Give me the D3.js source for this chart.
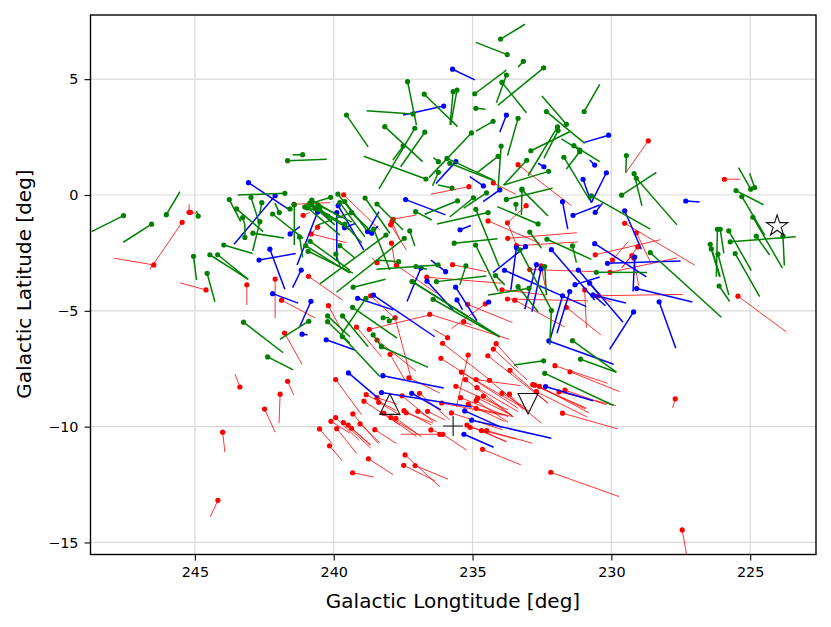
<!DOCTYPE html>
<html><head><meta charset="utf-8">
<script src="https://cdnjs.cloudflare.com/ajax/libs/d3/7.8.5/d3.min.js"></script>
<style>html,body{margin:0;padding:0;background:#fff}text{font-family:"DejaVu Sans",sans-serif}</style>
</head><body><svg id="c" width="831" height="627"></svg>
<script>
// Each record: [lon, lat, endLon, endLat] in degrees
const redVectors=[[245.46,-1.18,246.62,-3.21],[246.48,-3.02,247.91,-2.73],[245.21,-0.75,245.21,-0.4],[245.16,-0.75,244.96,-0.79],[244.6,-4.1,245.54,-3.79],[243.13,-3.88,243.13,-4.75],[242.11,-3.63,242.11,-5.32],[241.88,-4.54,240.68,-5.3],[241.77,-5.96,241.14,-7.31],[240.91,-3.51,239.68,-4.54],[240.19,-4.78,239.66,-5.97],[240.81,-1.68,239.54,-2.06],[240.58,-1.39,240.86,-1.73],[241.1,-0.88,240.86,-0.76],[241.43,-0.4,240.14,-0.33],[239.64,0.01,238.34,-1.51],[237.86,-1.05,237.02,-0.86],[237.95,-1.29,237.38,-2.37],[237.9,-1.15,237.62,-1.94],[237.92,-2.08,237.8,-2.95],[238.44,-2.92,238.63,-2.72],[237.74,-3.03,236.3,-4.24],[235.72,-3.01,234.5,-3.31],[236.65,-3.55,233.96,-3.81],[234.44,-1.12,232.58,-2.08],[233.74,-1.2,233.42,-2.16],[233.07,-0.46,233.74,-1.2],[233.73,-1.87,231.24,-1.63],[233.42,-2.19,231.21,-2.03],[232.94,-3.22,230.54,-3.31],[232.53,-3.06,232.32,-4.32],[233.94,-4.09,232.34,-4.32],[233.74,-4.49,230.84,-4.57],[233.48,-4.54,231.68,-5.7],[230.96,-4.1,230.9,-5.73],[230.48,-4.36,230.02,-4.62],[231.62,-4.85,230.38,-6.04],[234.54,-4.7,235.76,-5.77],[235.18,-4.72,233.56,-5.51],[236.54,-5.15,233.68,-6.23],[238.72,-5.8,236.54,-5.18],[235.9,-6.16,236.4,-5.8],[235.32,-5.47,235.03,-5.61],[238.67,-4.35,237.8,-5.32],[237.79,-5.3,237.2,-7.98],[239.18,-5.7,238.28,-6.98],[238.44,-6.26,237.04,-7.6],[237.97,-6.88,237.44,-7.98],[236.08,-6.4,234.38,-7.98],[236.14,-7.05,233.36,-9.21],[235.16,-6.91,235.58,-9.14],[234.15,-6.42,233.36,-7.48],[234.25,-6.65,233.04,-7.98],[234.45,-6.94,232.28,-8.99],[233.65,-7.57,232.29,-8.98],[235.4,-7.65,232.94,-9.35],[235.25,-7.97,233.54,-9.57],[234.87,-7.97,233.27,-8.23],[234.39,-8.0,232.52,-9.85],[234.84,-8.32,233.36,-9.35],[235.6,-8.26,233.72,-9.28],[233.94,-8.56,233.06,-9.2],[233.67,-8.6,233.18,-9.28],[234.61,-8.68,233.54,-9.57],[234.82,-8.77,233.6,-9.5],[234.87,-8.88,233.72,-9.81],[235.43,-8.75,233.72,-9.57],[236.11,-8.98,233.9,-9.5],[235.15,-9.03,233.84,-9.78],[234.87,-9.21,233.54,-9.57],[235.76,-9.41,233.91,-10.14],[235.2,-9.93,233.78,-10.65],[235.09,-10.03,233.42,-10.54],[234.68,-10.17,233.78,-10.65],[234.49,-10.17,232.84,-10.72],[236.07,-10.33,235.22,-11.01],[234.64,-10.98,233.26,-11.65],[232.18,-11.97,229.72,-13.02],[231.76,-9.42,229.76,-10.1],[232.03,-7.37,230.14,-8.13],[231.49,-7.63,229.7,-8.49],[232.83,-8.19,230.9,-9.2],[232.76,-8.21,230.92,-9.24],[232.59,-8.26,230.8,-9.41],[232.7,-8.49,230.87,-9.59],[231.89,-8.5,229.84,-9.09],[231.67,-8.42,230.18,-9.06],[243.38,-8.29,243.56,-7.73],[241.66,-8.04,241.44,-8.63],[241.93,-8.6,241.97,-9.85],[242.49,-9.24,242.11,-10.24],[244.0,-10.24,243.92,-11.1],[244.17,-13.18,244.45,-13.9],[239.93,-7.97,239.0,-9.48],[238.83,-8.62,237.74,-9.31],[238.44,-8.75,237.72,-9.03],[238.38,-8.95,237.62,-9.5],[238.91,-8.9,237.62,-9.93],[239.31,-9.45,238.4,-10.72],[239.93,-9.61,239.08,-10.6],[240.1,-9.77,239.42,-10.28],[239.65,-9.83,238.66,-10.93],[239.48,-9.93,238.66,-10.79],[239.36,-10.07,238.7,-10.79],[239.05,-9.88,238.34,-10.7],[238.52,-10.13,237.74,-10.73],[239.89,-10.09,239.18,-11.15],[240.51,-10.1,240.07,-10.72],[240.15,-10.83,239.7,-11.47],[238.75,-11.39,237.86,-12.07],[239.32,-11.99,238.55,-12.18],[237.54,-8.67,236.42,-9.78],[236.91,-8.56,235.82,-9.71],[237.29,-7.89,236.18,-8.55],[238.2,-9.42,237.02,-10.43],[237.94,-9.61,236.84,-10.43],[237.76,-9.64,237.02,-10.28],[237.47,-9.31,236.48,-9.93],[237.39,-9.4,236.42,-9.85],[236.97,-9.34,236.3,-9.78],[236.62,-9.34,236.0,-9.71],[236.5,-10.14,236.0,-10.36],[236.18,-10.33,237.57,-10.33],[237.43,-11.22,236.18,-12.59],[237.07,-11.68,235.88,-12.27],[237.48,-11.67,236.36,-12.34],[228.67,2.34,229.48,0.96],[225.93,0.68,225.35,0.68],[229.52,-1.22,227.0,-3.03],[229.1,-1.63,228.6,-2.88],[229.05,-2.24,229.62,-3.14],[229.26,-2.62,229.62,-3.14],[230.58,-2.58,228.23,-1.93],[229.96,-2.81,229.4,-2.02],[230.05,-3.34,227.64,-2.72],[230.46,-4.35,227.42,-4.29],[229.19,-2.73,229.02,-3.91],[225.44,-4.37,223.7,-5.91],[233.36,1.31,231.44,-0.46],[234.25,0.52,233.44,0.03],[235.13,0.36,236.51,0.03],[227.7,-8.8,227.79,-9.19],[227.45,-14.46,227.29,-15.54]];
const blueVectors=[[243.07,0.53,241.58,-0.65],[242.11,-0.03,243.59,-2.13],[241.57,-1.68,241.22,-1.37],[240.58,-0.73,241.32,-3.02],[239.89,-0.76,239.89,-2.81],[239.84,-0.46,238.92,-2.37],[242.3,-2.34,241.76,-4.07],[242.69,-2.81,241.37,-2.53],[241.17,-3.24,241.48,-4.0],[242.2,-4.26,241.28,-4.67],[240.82,-4.59,241.22,-5.68],[241.14,-6.01,240.94,-6.03],[240.27,-6.25,239.24,-6.69],[239.14,-4.46,237.86,-4.96],[238.57,-4.32,236.36,-6.12],[237.41,-0.2,235.97,-0.86],[238.78,-1.58,238.37,-0.72],[238.63,-1.65,238.41,-1.34],[239.61,-1.41,239.2,-1.22],[235.45,-1.5,235.06,-1.32],[231.76,-0.29,231.57,-1.47],[231.38,-0.88,230.42,-0.43],[233.42,-2.27,233.62,-4.1],[233.09,-2.23,234.26,-3.35],[232.16,-2.36,230.6,-4.53],[233.85,-3.25,230.9,-4.82],[232.7,-3.01,233.12,-4.93],[232.53,-3.19,232.86,-5.04],[236.86,-3.15,237.36,-4.6],[235.97,-3.31,236.5,-2.81],[236.64,-3.72,235.7,-4.96],[235.61,-3.98,234.84,-5.43],[235.56,-4.53,235.36,-4.96],[234.42,-4.62,234.52,-4.7],[231.76,-4.35,232.22,-6.29],[231.5,-4.17,231.96,-5.97],[232.25,-6.3,229.92,-7.31],[231.19,-3.24,230.42,-4.32],[231.31,-3.87,230.42,-3.54],[230.14,-2.95,227.51,-2.85],[230.1,2.58,231.0,2.26],[230.6,1.29,230.78,1.51],[230.18,0.96,230.72,-0.33],[230.58,-0.75,230.32,-0.36],[229.52,-0.68,228.92,-2.34],[230.6,-2.1,228.74,-3.53],[229.16,-2.68,229.22,-4.17],[229.09,-4.04,227.08,-4.62],[228.28,-4.61,227.68,-6.62],[229.2,-5.05,230.06,-6.66],[227.32,-0.26,226.82,-0.3],[230.66,-4.32,229.48,-4.66],[230.78,-3.81,229.58,-5.49],[230.66,-4.32,230.21,-4.78],[235.72,5.43,234.92,4.97],[236.04,3.84,237.5,3.45],[233.78,3.45,234.02,2.71],[235.6,1.44,236.32,0.5],[234.61,0.39,235.1,0.79],[234.02,0.22,234.62,-0.29],[232.43,1.22,232.64,1.37],[231.02,0.68,230.72,-0.33],[239.47,-7.68,238.4,-8.77],[238.23,-7.8,236.04,-8.33],[238.28,-8.53,235.03,-9.15],[237.19,-8.56,236.14,-9.28],[235.28,-9.32,233.96,-10.03],[235.03,-9.72,232.16,-10.5],[235.31,-10.33,234.24,-10.89],[232.37,-8.27,230.66,-8.88]];
const greenVectors=[[247.57,-0.89,248.72,-1.58],[246.56,-1.26,247.58,-2.04],[246.03,-0.85,245.54,0.14],[244.88,-0.91,244.94,-0.69],[245.05,-2.65,244.94,-3.67],[244.56,-3.38,244.28,-4.61],[244.46,-2.58,243.08,-3.64],[244.18,-2.58,243.08,-3.64],[243.96,-2.16,242.92,-2.53],[243.76,-0.2,243.35,-1.15],[243.5,-0.6,242.54,-1.58],[243.28,-0.98,243.2,-1.29],[243.2,-1.83,243.2,-1.29],[242.98,-0.1,242.66,-1.29],[242.59,-0.33,242.66,-0.78],[242.66,-1.15,242.92,-2.42],[242.91,-1.65,241.79,-1.86],[242.2,-0.82,241.1,-1.87],[241.96,-0.76,242.12,-0.35],[241.76,0.07,243.46,0],[241.57,-0.6,241.76,-0.52],[241.42,-0.42,241.42,-2.16],[241.23,-1.81,241.12,-2.69],[241.01,-2.19,239.42,-3.37],[240.85,-2.0,239.42,-3.24],[240.92,-2.43,239.31,-3.37],[240.86,-0.35,239.96,-1.29],[240.79,-0.43,239.6,-1.29],[240.68,-0.56,239.42,-1.51],[240.93,-0.56,239.78,-1.73],[240.57,-0.43,239.35,-1.17],[240.79,-0.22,239.71,-0.99],[240.5,-0.56,240.07,-1.17],[241.04,-0.52,240.14,-0.86],[240.11,-0.1,241.11,-0.47],[239.85,0.04,239.35,-0.73],[239.78,-0.33,238.88,-1.81],[239.6,-0.29,238.82,-1.51],[239.36,-0.76,240.57,-1.29],[239.36,-0.76,238.64,-1.58],[239.6,-1.26,238.99,-2.07],[239.78,-2.19,239.24,-2.72],[239.92,-2.55,239.78,-3.06],[238.12,-1.73,240.5,-3.84],[237.46,-1.87,239.9,-4.2],[238.56,-1.47,237.98,-3.24],[238.87,-0.13,237.98,-1.65],[238.44,-0.39,237.5,-1.51],[237.26,-1.55,237.08,-2.2],[237.05,-0.72,236.47,-1.08],[233.99,6.73,233.11,7.37],[233.75,6.06,234.88,6.59],[233.17,5.77,233.36,5.51],[232.44,5.49,234.08,3.88],[233.78,5.18,234.14,3.98],[233.94,4.86,233.06,3.55],[234.92,4.37,233.78,5.39],[234.88,3.74,234.53,3.7],[234.26,3.18,234.88,2.76],[233.36,3.31,233.74,1.7],[235.04,2.68,236.57,0.75],[233.97,2.11,234.08,0.29],[234.08,1.67,234.86,0.94],[236.68,0.69,238.92,1.67],[237.34,4.89,237.02,3.02],[237.14,3.5,238.82,3.64],[235.7,4.46,235.81,3.02],[235.56,4.53,235.79,3.02],[236.74,4.35,235.54,2.95],[238.16,2.95,236.8,1.44],[239.54,3.45,238.76,2.08],[237.08,2.88,238.37,0.26],[237.5,2.11,237.87,1.51],[236.72,2.71,237.59,1.22],[235.92,1.58,234.26,0.65],[236.23,0.98,236.44,0.4],[235.82,1.37,234.2,0.6],[236.23,1.44,236.41,1.61],[235.74,0.3,236.24,0.43],[233.05,1.5,233.88,0.43],[232.26,1.02,233.88,0.43],[232.9,1.91,231.5,2.73],[231.92,2.78,232.43,1.58],[231.94,2.94,233.0,0.83],[231.62,3.05,232.5,4.27],[232.34,3.6,230.96,2.23],[230.98,3.6,230.42,4.78],[231.35,2.13,230.42,1.44],[231.14,1.94,231.8,2.42],[231.14,1.87,231.62,1.12],[231.71,1.63,230.78,-0.22],[233.22,0.25,233.24,-0.86],[233.78,-0.19,232.12,0.29],[234.5,0.09,235.32,-0.57],[234.97,-0.12,235.82,-0.95],[235.54,-0.25,236.72,-0.83],[233.44,-0.4,233.44,-0.69],[233.22,0.22,232.28,-0.91],[234.44,-0.76,236.28,-1.25],[235.66,-2.08,234.1,-1.89],[234.88,-0.62,234.04,-3.09],[234.89,-2.16,234.08,-4.14],[232.64,-1.25,234.11,-0.5],[232.94,-1.6,232.52,-2.3],[232.32,-1.91,230.72,-2.78],[231.4,-2.2,231.26,-2.92],[233.3,-2.37,232.16,-4.96],[232.4,-3.09,232.34,-4.32],[234.17,-3.48,233.84,-3.88],[235.24,-3.06,235.46,-3.88],[236.3,-3.74,234.5,-3.5],[232.97,-4.03,234.44,-4.32],[233.36,-3.96,232.64,-5.04],[232.16,-4.99,232.22,-6.47],[237.66,-2.88,238.46,-2.81],[236.24,-3.02,238.46,-3.21],[237.04,-3.09,236.64,-3.21],[237.18,-3.74,235.16,-5.25],[237.16,-3.74,234.02,-6.12],[236.42,-4.5,234.02,-6.13],[239.3,-3.98,238.13,-3.64],[238.84,-4.46,239.78,-6.12],[239.32,-4.85,237.72,-6.18],[239.68,-5.22,238.76,-6.55],[239.68,-6.12,238.34,-7.84],[238.58,-6.04,238.28,-6.55],[238.28,-6.55,236.6,-7.44],[238.22,-5.3,238.0,-5.3],[238.0,-5.44,237.78,-5.3],[240.22,-5.22,239.42,-6.12],[240.22,-5.47,239.42,-6.39],[240.9,-5.45,241.94,-6.23],[243.25,-5.49,241.82,-6.81],[242.38,-6.99,241.46,-7.55],[231.4,-6.29,229.82,-7.65],[231.11,-7.09,229.82,-7.65],[232.4,-7.7,229.92,-9.09],[232.44,-7.16,233.51,-7.34],[241.12,1.74,241.48,1.74],[241.66,1.48,240.25,1.54],[229.46,1.7,229.48,0.96],[229.18,0.92,228.9,-0.47],[229.1,0.72,227.64,-1.29],[229.63,-0.01,228.38,0.98],[230.72,-0.04,228.6,-1.47],[230.54,-3.34,228.72,-3.35],[228.6,-2.49,226.04,-5.28],[226.18,-1.48,226.22,-3.53],[226.08,-1.48,225.95,-2.52],[225.77,-1.55,224.96,-3.27],[225.72,-2.02,223.36,-1.8],[225.54,-2.53,224.66,-4.39],[226.44,-2.13,226.08,-3.53],[226.4,-2.33,226.1,-3.53],[226.16,-2.55,225.77,-4.32],[226.12,-3.93,225.74,-4.6],[225.51,0.19,224.52,-0.42],[225.3,-0.07,224.48,-1.73],[224.98,0.25,225.42,1.18],[224.84,0.32,225.02,0.94],[224.9,-0.96,223.84,-3.16],[224.78,-1.78,224.3,-2.59],[223.82,-1.78,223.77,-3.05]];
const xTicks=[245,240,235,230,225];
const yTicks=[5,0,-5,-10,-15];
const xDomain=[248.76,222.63];
const yDomain=[-15.52,7.77];
const xLabel="Galactic Longtitude [deg]";
const yLabel="Galactic Latitude [deg]";
const refStar=[224.03,-1.34];
const refUp=[237.98,-9.06];
const refDown=[233.0,-8.98];
const refPlus=[235.7,-9.97];

const L=90.5,R=816,T=15,B=554.5;
const svg=d3.select("#c");
const x=d3.scaleLinear().domain(xDomain).range([L,R]);
const y=d3.scaleLinear().domain(yDomain).range([B,T]);
svg.append("defs").append("clipPath").attr("id","clip").append("rect").attr("x",L).attr("y",T).attr("width",R-L).attr("height",B-T);
const grid=svg.append("g");
grid.selectAll(".v").data(xTicks).join("line").attr("x1",d=>x(d)).attr("x2",d=>x(d)).attr("y1",T).attr("y2",B).attr("stroke","#d9d9d9").attr("stroke-width",1.2);
grid.selectAll(".h").data(yTicks).join("line").attr("y1",d=>y(d)).attr("y2",d=>y(d)).attr("x1",L).attr("x2",R).attr("stroke","#d9d9d9").attr("stroke-width",1.2);
const plot=svg.append("g").attr("clip-path","url(#clip)");
function series(data,color,w){
  const g=plot.append("g");
  g.selectAll("line").data(data).join("line").attr("x1",d=>x(d[0])).attr("y1",d=>y(d[1])).attr("x2",d=>x(d[2])).attr("y2",d=>y(d[3])).attr("stroke",color).attr("stroke-width",w);
  g.selectAll("circle").data(data).join("circle").attr("cx",d=>x(d[0])).attr("cy",d=>y(d[1])).attr("r",2.6).attr("fill",color);
}
series(redVectors,"#ff0000",0.8);
series(blueVectors,"#0000ff",1.5);
series(greenVectors,"#008000",1.5);
const outline=s=>s.attr("fill","none").attr("stroke","#111").attr("stroke-width",1.1);
plot.append("path").attr("d",d3.symbol().type(d3.symbolStar).size(140)()).attr("transform",`translate(${x(refStar[0])},${y(refStar[1])})`).call(outline);
plot.append("path").attr("d","M0,-11L10,9.5L-10,9.5Z").attr("transform",`translate(${x(refUp[0])},${y(refUp[1])})`).call(outline);
plot.append("path").attr("d","M0,11L10,-9.5L-10,-9.5Z").attr("transform",`translate(${x(refDown[0])},${y(refDown[1])})`).call(outline);
plot.append("path").attr("d","M-10,0H10M0,-10V10").attr("transform",`translate(${x(refPlus[0])},${y(refPlus[1])})`).call(outline);
const ax=svg.append("g").attr("transform",`translate(0,${B})`).call(d3.axisBottom(x).tickValues(xTicks).tickSize(6).tickPadding(6).tickSizeOuter(0));
const ay=svg.append("g").attr("transform",`translate(${L},0)`).call(d3.axisLeft(y).tickValues(yTicks).tickSize(6).tickPadding(6).tickSizeOuter(0).tickFormat(d=>String(d).replace("-","\u2212")));
[ax,ay].forEach(a=>{a.select(".domain").remove();a.selectAll("text").attr("font-size",14.4).attr("font-family","DejaVu Sans").attr("fill","#000");a.selectAll("line").attr("stroke","#000").attr("stroke-width",1.1)});
svg.append("rect").attr("x",L).attr("y",T).attr("width",R-L).attr("height",B-T).attr("fill","none").attr("stroke","#000").attr("stroke-width",1.4);
svg.append("text").attr("x",453).attr("y",608).attr("text-anchor","middle").attr("font-size",20).text(xLabel);
svg.append("text").attr("transform",`translate(31,284) rotate(-90)`).attr("text-anchor","middle").attr("font-size",20).text(yLabel);
</script></body></html>
